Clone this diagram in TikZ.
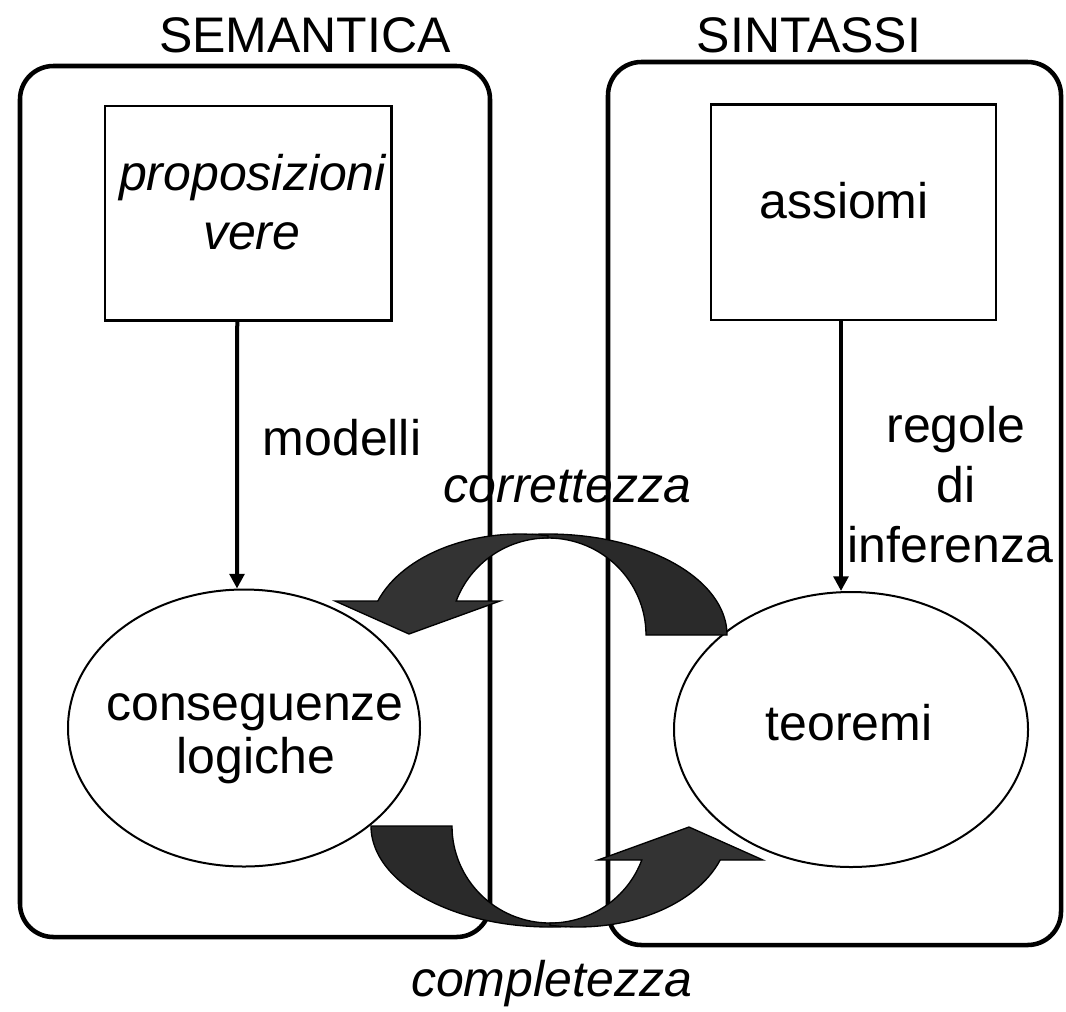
\documentclass[tikz,border=0pt]{standalone}
\usepackage{fontspec}
\setmainfont{Liberation Sans}
\usetikzlibrary{arrows.meta,shapes.geometric,calc}
\definecolor{headcol}{HTML}{333333}
\definecolor{tailcol}{HTML}{2A2A2A}
\begin{document}
\begin{tikzpicture}[x=0.75pt,y=-0.75pt,
  txt/.style={anchor=base,inner sep=0pt,font=\fontsize{37.5pt}{45pt}\selectfont},
  itxt/.style={anchor=base,inner sep=0pt,font=\fontsize{37.5pt}{45pt}\selectfont\itshape},
  panel/.style={draw,line width=3.4pt,rounded corners=25pt,inner sep=0pt},
  sqbox/.style={draw,line width=1.9pt,inner sep=0pt},
  oval/.style={draw,ellipse,line width=1.5pt,fill=white,inner sep=0pt},
  vlink/.style={line width=3pt,-{Triangle[length=11pt,width=11pt]}},
  headband/.style={fill=headcol,draw=black,line width=1pt},
  tailband/.style={fill=tailcol,draw=black,line width=1pt}]
\path[use as bounding box] (0,0) rectangle (1066,1011);

% panels
\node[panel,minimum width=352.5pt,minimum height=653.25pt] (boxL) at (255,501.5) {};
\node[panel,minimum width=339.75pt,minimum height=662.25pt] (boxR) at (834.5,503.5) {};

% titles
\node[txt] (tSem) at (305,52) {SEMANTICA};
\node[txt] (tSin) at (809,52) {SINTASSI};

% squares
\node[sqbox,minimum width=214.9pt,minimum height=160.9pt] (rectL) at (248.25,213.25) {};
\node[sqbox,minimum width=213.75pt,minimum height=161.6pt] (rectR) at (853.5,212.25) {};

% ellipses
\node[oval,minimum width=264pt,minimum height=207.75pt] (ellL) at (244,728) {};
\node[oval,minimum width=265.5pt,minimum height=206.25pt] (ellR) at (851,729.5) {};

% vertical connectors
\draw[vlink] ($(rectL.south)+(-11,0)$) -- ($(ellL.north)+(-7,0)$);
\draw[vlink] ($(rectR.south)+(-12.5,0)$) -- ($(ellR.north)+(-10,0)$);

% texts
\node[itxt] (tProp) at (252.5,190) {proposizioni};
\node[itxt] (tVere) at (251.7,249) {vere};
\node[txt] (tAss) at (844,218) {assiomi};
\node[txt] (tMod) at (342,455) {modelli};
\node[txt] (tReg) at (956,442) {regole};
\node[txt] (tDi) at (956,502) {di};
\node[txt] (tInf) at (950.5,562) {inferenza};
\node[itxt] (tCorr) at (567.5,502) {correttezza};
\node[txt] (tCons) at (255,720) {conseguenze};
\node[txt] (tLog) at (256,773) {logiche};
\node[txt] (tTeo) at (849,740) {teoremi};
\node[itxt] (tComp) at (551.5,996) {completezza};

% curved arrow: correttezza (top, pointing left)
\fill[tailband] (727,635) arc[start angle=0,end angle=-103,x radius=179,y radius=101]
  -- (548,538) arc[start angle=-90,end angle=0,x radius=98,y radius=97] -- cycle;
\fill[headband] (548,535.8) arc[start angle=-79.3,end angle=-160.3,x radius=151,y radius=101]
  -- (335,601) -- (409,634) -- (500,601) -- (456.2,601)
  arc[start angle=-159.5,end angle=-90,x radius=98,y radius=97] -- cycle;

% curved arrow: completezza (bottom, pointing right), same shape turned half round
\begin{scope}[rotate around={180:(549,730.5)}]
\fill[tailband] (727,635) arc[start angle=0,end angle=-103,x radius=179,y radius=101]
  -- (548,538) arc[start angle=-90,end angle=0,x radius=98,y radius=97] -- cycle;
\fill[headband] (548,535.8) arc[start angle=-79.3,end angle=-160.3,x radius=151,y radius=101]
  -- (335,601) -- (409,634) -- (500,601) -- (456.2,601)
  arc[start angle=-159.5,end angle=-90,x radius=98,y radius=97] -- cycle;
\end{scope}
\end{tikzpicture}
\end{document}
